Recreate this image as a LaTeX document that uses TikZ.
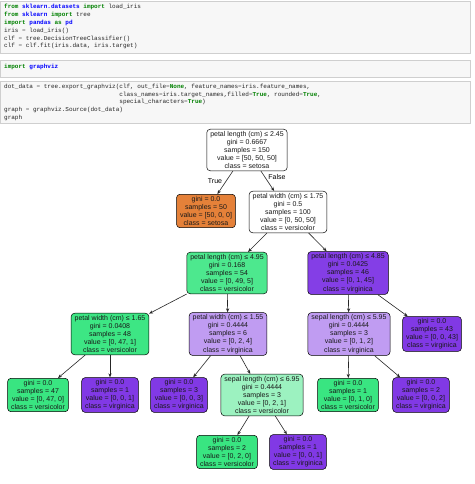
\documentclass[tikz,border=0pt]{standalone}
\usepackage{fontspec}
\setmainfont{Liberation Sans}
\setmonofont{Liberation Mono}
\usetikzlibrary{arrows.meta}
\definecolor{kwg}{HTML}{008000}
\definecolor{nsb}{HTML}{0000FF}
\definecolor{opg}{HTML}{666666}
\definecolor{cellbg}{HTML}{F7F7F7}
\definecolor{cellbd}{HTML}{CFCFCF}
\definecolor{cOrange}{HTML}{E58139}
\definecolor{cGreen}{HTML}{39E581}
\definecolor{cPurple}{HTML}{8139E5}
\definecolor{cGreenA}{HTML}{4DE88E}
\definecolor{cGreenB}{HTML}{3DE684}
\definecolor{cPurpleA}{HTML}{843EE6}
\definecolor{cLilac}{HTML}{C09CF2}
\definecolor{cMint}{HTML}{9CF2C0}
\newcommand\KW[1]{\textcolor{kwg}{\bfseries #1}}
\newcommand\NS[1]{\textcolor{nsb}{\bfseries #1}}
\newcommand\OP{\textcolor{opg}{=}}
\tikzset{
  codecell/.style={draw=cellbd, fill=cellbg, line width=0.4pt},
  codeline/.style={anchor=west, inner sep=0pt, font=\fontsize{6}{7}\ttfamily\selectfont, text=black!85},
  treenode/.style={draw=black, rounded corners=3.5pt, line width=0.5pt, align=center,
    inner xsep=3.5pt, inner ysep=2pt, font=\fontsize{7}{8.1}\selectfont, text=black!90},
  edge/.style={draw=black!85, line width=0.6pt, -{Stealth[length=4pt,width=3.2pt]}},
  elabel/.style={font=\fontsize{7}{8}\selectfont, inner sep=0pt}
}
\begin{document}
\begin{tikzpicture}[x=1pt,y=-1pt]
\useasboundingbox (0,0) rectangle (474,484);
\fill[white] (0,0) rectangle (474,484);
% code cells
\draw[codecell] (0.5,1) rectangle (470,53);
\draw[codecell] (0.5,60) rectangle (470,77);
\draw[codecell] (0.5,81) rectangle (470,123);
\node[codeline] (l1) at (4,7) {\KW{from} \NS{sklearn.datasets} \KW{import} load\_iris};
\node[codeline] (l2) at (4,15) {\KW{from} \NS{sklearn} \KW{import} tree};
\node[codeline] (l3) at (4,23) {\KW{import} \NS{pandas} \KW{as} \NS{pd}};
\node[codeline] (l4) at (4,31) {iris \OP{} load\_iris()};
\node[codeline] (l5) at (4,39) {clf \OP{} tree.DecisionTreeClassifier()};
\node[codeline] (l6) at (4,46) {clf \OP{} clf.fit(iris.data, iris.target)};
\node[codeline] (l7) at (4,67) {\KW{import} \NS{graphviz}};
\node[codeline] (l8) at (4,87) {dot\_data \OP{} tree.export\_graphviz(clf, out\_file\OP\KW{None}, feature\_names\OP{}iris.feature\_names,};
\node[codeline] (l9) at (119.2,94.5) {class\_names\OP{}iris.target\_names,filled\OP\KW{True}, rounded\OP\KW{True},};
\node[codeline] (l10) at (119.2,102) {special\_characters\OP\KW{True})};
\node[codeline] (l11) at (4,110) {graph \OP{} graphviz.Source(dot\_data)};
\node[codeline] (l12) at (4,117.5) {graph};
% tree
\node[treenode, fill=white] (n0) at (247,150) {petal length (cm) ≤ 2.45\\gini = 0.6667\\samples = 150\\value = [50, 50, 50]\\class = setosa};
\node[treenode, fill=cOrange] (n1) at (206,211) {gini = 0.0\\samples = 50\\value = [50, 0, 0]\\class = setosa};
\node[treenode, fill=white] (n2) at (288,212) {petal width (cm) ≤ 1.75\\gini = 0.5\\samples = 100\\value = [0, 50, 50]\\class = versicolor};
\node[treenode, fill=cGreenA] (n3) at (227,273) {petal length (cm) ≤ 4.95\\gini = 0.168\\samples = 54\\value = [0, 49, 5]\\class = versicolor};
\node[treenode, fill=cPurpleA] (n4) at (348,273) {petal length (cm) ≤ 4.85\\gini = 0.0425\\samples = 46\\value = [0, 1, 45]\\class = virginica};
\node[treenode, fill=cGreenB] (n5) at (110,334) {petal width (cm) ≤ 1.65\\gini = 0.0408\\samples = 48\\value = [0, 47, 1]\\class = versicolor};
\node[treenode, fill=cLilac] (n6) at (228,334) {petal width (cm) ≤ 1.55\\gini = 0.4444\\samples = 6\\value = [0, 2, 4]\\class = virginica};
\node[treenode, fill=cLilac] (n7) at (349,334) {sepal length (cm) ≤ 5.95\\gini = 0.4444\\samples = 3\\value = [0, 1, 2]\\class = virginica};
\node[treenode, fill=cPurple] (n8) at (432,334) {gini = 0.0\\samples = 43\\value = [0, 0, 43]\\class = virginica};
\node[treenode, fill=cGreen] (n9) at (38,395) {gini = 0.0\\samples = 47\\value = [0, 47, 0]\\class = versicolor};
\node[treenode, fill=cPurple] (n10) at (110,395) {gini = 0.0\\samples = 1\\value = [0, 0, 1]\\class = virginica};
\node[treenode, fill=cPurple] (n11) at (179,395) {gini = 0.0\\samples = 3\\value = [0, 0, 3]\\class = virginica};
\node[treenode, fill=cMint] (n12) at (262,395) {sepal length (cm) ≤ 6.95\\gini = 0.4444\\samples = 3\\value = [0, 2, 1]\\class = versicolor};
\node[treenode, fill=cGreen] (n13) at (348,395) {gini = 0.0\\samples = 1\\value = [0, 1, 0]\\class = versicolor};
\node[treenode, fill=cPurple] (n14) at (421,395) {gini = 0.0\\samples = 2\\value = [0, 0, 2]\\class = virginica};
\node[treenode, fill=cGreen] (n15) at (227,452) {gini = 0.0\\samples = 2\\value = [0, 2, 0]\\class = versicolor};
\node[treenode, fill=cPurple] (n16) at (298,452) {gini = 0.0\\samples = 1\\value = [0, 0, 1]\\class = virginica};
% edges
\draw[edge] (n0) -- (n1);
\draw[edge] (n0) -- (n2);
\draw[edge] (n2) -- (n3);
\draw[edge] (n2) -- (n4);
\draw[edge] (n3) -- (n5);
\draw[edge] (n3) -- (n6);
\draw[edge] (n4) -- (n7);
\draw[edge] (n4) -- (n8);
\draw[edge] (n5) -- (n9);
\draw[edge] (n5) -- (n10);
\draw[edge] (n6) -- (n11);
\draw[edge] (n6) -- (n12);
\draw[edge] (n7) -- (n13);
\draw[edge] (n7) -- (n14);
\draw[edge] (n12) -- (n15);
\draw[edge] (n12) -- (n16);
\node[elabel] (tl) at (215,181) {True};
\node[elabel] (fl) at (277,177) {False};
\end{tikzpicture}
\end{document}
